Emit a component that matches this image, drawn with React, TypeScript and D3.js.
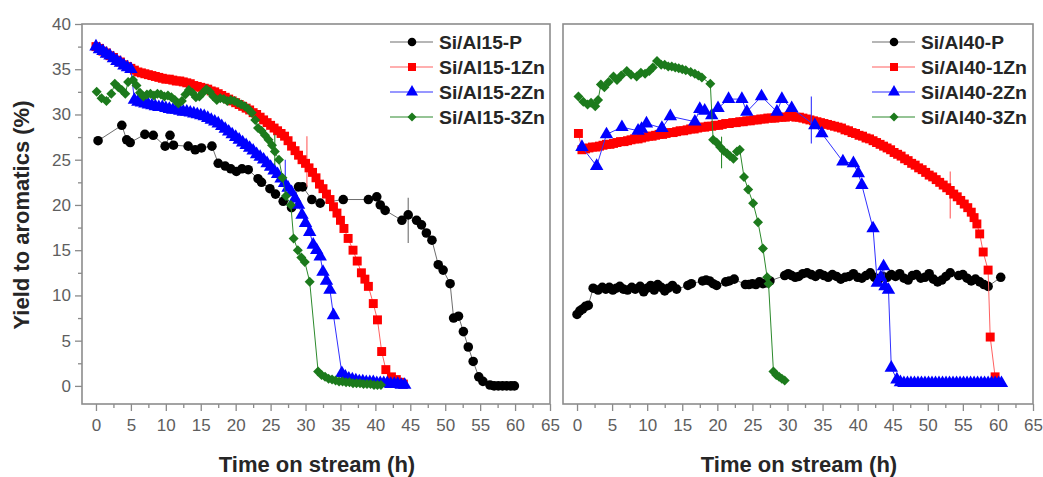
import React, { useEffect, useRef } from 'react';
import * as d3 from 'd3';

// tick labels
const xTickValues = [0, 5, 10, 15, 20, 25, 30, 35, 40, 45, 50, 55, 60, 65];
const xMinorTicks = [2.5, 7.5, 12.5, 17.5, 22.5, 27.5, 32.5, 37.5, 42.5, 47.5, 52.5, 57.5, 62.5];
const yTickValues = [0, 5, 10, 15, 20, 25, 30, 35, 40];
const yMinorTicks = [2.5, 7.5, 12.5, 17.5, 22.5, 27.5, 32.5, 37.5];

const al15Names = ['Si/Al15-P', 'Si/Al15-1Zn', 'Si/Al15-2Zn', 'Si/Al15-3Zn'];
const al40Names = ['Si/Al40-P', 'Si/Al40-1Zn', 'Si/Al40-2Zn', 'Si/Al40-3Zn'];

// [time (h), yield (%)]
const al15P = [
  [0.3, 27.1], [3.7, 28.8], [4.4, 27.2], [4.9, 26.9], [7.0, 27.8], [8.2, 27.7], [9.9, 26.5], [10.6, 27.7],
  [11.1, 26.6], [13.2, 26.5], [14.2, 26.1], [15.1, 26.3], [16.6, 26.5], [17.5, 24.6], [18.5, 24.3], [19.3, 24.0],
  [20.1, 23.7], [20.9, 24.0], [21.8, 23.9], [23.2, 22.9], [23.7, 22.5], [24.9, 21.8], [25.7, 21.2], [26.8, 20.4],
  [28.0, 19.7], [29.0, 22.0], [29.6, 22.0], [30.9, 20.6], [32.1, 20.2], [35.4, 20.6], [39.0, 20.6], [40.2, 20.9],
  [40.7, 20.0], [41.4, 19.4], [43.8, 18.3], [44.7, 18.9], [45.9, 18.3], [46.6, 17.8], [47.3, 16.9], [48.1, 16.1],
  [49.0, 13.4], [49.7, 12.8], [50.7, 11.3], [51.2, 7.5], [51.9, 7.7], [52.6, 6.0], [53.3, 4.3], [54.0, 2.7],
  [54.8, 1.0], [55.4, 0.5], [56.4, 0.1], [57.0, 0], [57.6, 0], [58.2, 0], [58.8, 0], [59.4, 0], [59.9, 0],
];

const al15Zn1 = [
  [0, 37.5], [0.5, 37.3], [1, 37.0], [1.5, 36.8], [2, 36.5], [2.5, 36.3], [3, 36.0], [3.5, 35.8], [4, 35.5],
  [4.5, 35.3], [5, 35.1], [5.5, 34.9], [6, 34.7], [6.5, 34.6], [7, 34.5], [7.5, 34.4], [8, 34.3], [8.5, 34.2],
  [9, 34.1], [9.5, 34.0], [10, 33.9], [10.5, 33.9], [11, 33.8], [11.5, 33.7], [12, 33.7], [12.5, 33.6], [13, 33.5],
  [13.5, 33.4], [14, 33.2], [14.5, 33.1], [15, 33.0], [15.5, 32.9], [16, 32.8], [16.5, 32.6], [17, 32.5],
  [17.5, 32.3], [18, 32.1], [18.5, 31.9], [19, 31.7], [19.5, 31.5], [20, 31.3], [20.5, 31.1], [21, 30.9],
  [21.5, 30.7], [22, 30.5], [22.5, 30.2], [23, 30.0], [23.5, 29.7], [24, 29.4], [24.5, 29.1], [25, 28.8],
  [25.5, 28.5], [26, 28.2], [26.5, 27.9], [27, 27.6], [27.5, 27.1], [28, 26.5], [28.5, 26.0], [29, 25.5],
  [29.5, 25.0], [30, 24.6], [30.5, 24.1], [31, 23.6], [31.5, 23.0], [32, 22.3], [32.5, 21.8], [33, 21.2],
  [33.5, 20.6], [34, 19.8], [34.5, 19.1], [35, 18.3], [35.5, 17.4], [36.1, 16.3], [36.8, 15.0], [37.4, 13.8],
  [38, 12.5], [38.5, 11.8], [39, 11.0], [39.7, 9.1], [40.3, 7.3], [40.9, 3.8], [41.5, 1.8], [42.3, 1.0],
  [43, 0.7], [43.5, 0.4], [44, 0.2],
];

const al15Zn2 = [
  [0, 37.5], [0.5, 37.2], [1, 37.0], [1.5, 36.7], [2, 36.5], [2.5, 36.2], [3, 35.9], [3.5, 35.7], [4, 35.4],
  [4.5, 35.2], [5, 35.0], [5.5, 31.6], [6, 31.4], [6.5, 31.3], [7, 31.2], [7.5, 31.1], [8, 31.0], [8.5, 30.9],
  [9, 30.8], [9.5, 30.8], [10, 30.7], [10.5, 30.6], [11, 30.5], [11.5, 30.5], [12, 30.4], [12.5, 30.3],
  [13, 30.3], [13.5, 30.2], [14, 30.1], [14.5, 30.0], [15, 29.9], [15.5, 29.8], [16, 29.6], [16.5, 29.4],
  [17, 29.2], [17.5, 29.0], [18, 28.7], [18.5, 28.4], [19, 28.1], [19.5, 27.8], [20, 27.5], [20.5, 27.2],
  [21, 26.9], [21.5, 26.6], [22, 26.3], [22.5, 26.0], [23, 25.6], [23.5, 25.3], [24, 25.0], [24.5, 24.6],
  [25, 24.2], [25.5, 23.8], [26, 23.4], [26.5, 22.9], [27, 22.4], [27.5, 21.9], [28, 21.4], [28.5, 20.7],
  [29, 20.0], [29.5, 18.9], [30, 18.0], [30.6, 17.0], [31.1, 15.6], [31.6, 15.0], [32.1, 14.3], [32.5, 12.6],
  [33, 11.6], [33.5, 10.6], [34, 7.8], [35.2, 1.4], [35.7, 1.0], [36.2, 0.8], [36.7, 0.7], [37.2, 0.6],
  [37.7, 0.5], [38.2, 0.5], [38.7, 0.4], [39.2, 0.4], [39.7, 0.4], [40.2, 0.3], [40.7, 0.3], [41.2, 0.3],
  [41.7, 0.3], [42.2, 0.2], [42.7, 0.2], [43.2, 0.2], [43.7, 0.1], [44.2, 0.1],
];

const al15Zn3 = [
  [0.1, 32.5], [0.8, 31.8], [1.5, 31.5], [2.2, 32.3], [2.7, 33.4], [3.2, 33.0], [3.7, 32.7], [4.2, 32.3],
  [4.6, 33.6], [5.3, 33.8], [5.8, 33.2], [6.3, 32.4], [6.8, 32.0], [7.3, 32.2], [7.8, 32.3], [8.3, 32.1],
  [8.8, 32.3], [9.3, 32.2], [9.8, 32.0], [10.3, 32.1], [10.8, 31.9], [11.3, 31.6], [11.8, 31.2], [12.3, 31.5],
  [12.8, 32.2], [13.3, 32.7], [13.8, 32.4], [14.3, 31.9], [14.8, 32.0], [15.3, 32.4], [15.8, 32.8], [16.3, 32.5],
  [16.8, 32.0], [17.3, 31.6], [17.8, 31.8], [18.3, 31.7], [18.8, 31.5], [19.3, 31.6], [19.8, 31.5], [20.3, 31.3],
  [20.8, 31.1], [21.3, 30.9], [21.8, 30.6], [22.3, 30.2], [22.8, 29.4], [23.2, 28.5], [23.7, 28.2], [24.2, 27.7],
  [24.7, 27.2], [25.2, 26.6], [25.6, 25.9], [26.2, 25.0], [26.7, 23.0], [27.2, 21.0], [27.9, 20.0], [28.3, 16.3],
  [28.9, 15.0], [29.4, 14.2], [29.9, 13.7], [30.6, 11.5], [31.8, 1.6], [32.3, 1.2], [32.8, 1.0], [33.3, 0.8],
  [33.8, 0.7], [34.3, 0.6], [34.8, 0.5], [35.3, 0.5], [35.8, 0.4], [36.3, 0.4], [36.8, 0.3], [37.3, 0.3],
  [37.8, 0.3], [38.3, 0.2], [38.8, 0.2], [39.3, 0.2], [39.8, 0.1], [40.3, 0.1], [40.8, 0.1],
];

const al40P = [
  [0, 7.9], [0.4, 8.3], [0.8, 8.5], [1.2, 8.8], [1.6, 8.9], [2.3, 10.8], [3.0, 10.6], [3.6, 10.9], [4.1, 10.7],
  [4.6, 10.9], [5.1, 10.6], [5.6, 10.8], [6.1, 11.0], [6.6, 10.7], [7.2, 10.6], [7.8, 10.9], [8.3, 10.7],
  [9.0, 11.0], [9.5, 10.4], [10.0, 10.8], [10.5, 11.1], [11.0, 10.6], [11.5, 11.2], [12.0, 10.9], [12.5, 10.5],
  [13.0, 10.8], [13.6, 11.1], [14.2, 10.7], [15.8, 11.1], [16.3, 11.3], [17.9, 11.6], [18.4, 11.7], [18.9, 11.6],
  [19.4, 11.3], [19.9, 11.1], [21.2, 11.5], [21.7, 11.6], [22.4, 11.8], [24.0, 11.2], [24.5, 11.2], [25.0, 11.3],
  [25.5, 11.2], [26.0, 11.5], [26.5, 11.3], [27.0, 11.4], [27.5, 11.6], [29.6, 12.2], [30.1, 12.4], [30.6, 12.2],
  [31.1, 12.0], [31.6, 12.1], [32.2, 12.4], [32.8, 12.5], [33.4, 12.3], [34.0, 12.1], [34.6, 12.4], [35.2, 12.2],
  [35.8, 12.0], [36.4, 12.3], [37.0, 12.1], [37.6, 11.8], [38.2, 12.0], [38.8, 12.1], [39.4, 12.4], [40.0, 12.0],
  [40.6, 11.9], [41.2, 12.2], [41.8, 12.5], [42.4, 12.0], [43.0, 11.8], [43.6, 12.1], [44.2, 12.0], [44.8, 12.3],
  [45.4, 12.1], [46.0, 12.4], [46.6, 11.9], [47.2, 11.7], [47.8, 12.2], [48.4, 12.3], [49.0, 11.9], [49.6, 12.0],
  [50.2, 12.4], [50.8, 11.8], [51.4, 11.5], [52.0, 11.7], [52.6, 12.1], [53.2, 12.5], [54.4, 12.2], [55.0, 12.3],
  [55.6, 11.9], [56.2, 11.6], [56.8, 11.8], [57.4, 11.5], [58.0, 11.2], [58.6, 11.0], [60.4, 12.0],
];

const al40Zn1 = [
  [0.2, 27.9], [0.7, 26.1], [1.2, 26.2], [1.7, 26.3], [2.2, 26.4], [2.7, 26.4], [3.2, 26.5], [3.7, 26.6],
  [4.2, 26.7], [4.7, 26.7], [5.2, 26.8], [5.7, 26.9], [6.2, 27.0], [6.7, 27.0], [7.2, 27.1], [7.7, 27.2],
  [8.2, 27.3], [8.7, 27.3], [9.2, 27.4], [9.7, 27.5], [10.2, 27.6], [10.7, 27.6], [11.2, 27.7], [11.7, 27.8],
  [12.2, 27.8], [12.7, 27.9], [13.2, 28.0], [13.7, 28.0], [14.2, 28.1], [14.7, 28.2], [15.2, 28.2], [15.7, 28.3],
  [16.2, 28.4], [16.7, 28.4], [17.2, 28.5], [17.7, 28.6], [18.2, 28.6], [18.7, 28.7], [19.2, 28.7], [19.7, 28.8],
  [20.2, 28.8], [20.7, 28.9], [21.2, 29.0], [21.7, 29.0], [22.2, 29.1], [22.7, 29.1], [23.2, 29.2], [23.7, 29.2],
  [24.2, 29.3], [24.7, 29.3], [25.2, 29.4], [25.7, 29.4], [26.2, 29.5], [26.7, 29.5], [27.2, 29.6], [27.7, 29.6],
  [28.2, 29.6], [28.7, 29.7], [29.2, 29.7], [29.7, 29.7], [30.2, 29.8], [30.7, 29.8], [31.2, 29.7], [31.7, 29.7],
  [32.2, 29.6], [32.7, 29.5], [33.2, 29.4], [33.7, 29.3], [34.2, 29.2], [34.7, 29.1], [35.2, 29.0], [35.7, 28.9],
  [36.2, 28.8], [36.7, 28.7], [37.2, 28.6], [37.7, 28.5], [38.2, 28.3], [38.7, 28.2], [39.2, 28.0], [39.7, 27.9],
  [40.2, 27.7], [40.7, 27.6], [41.2, 27.4], [41.7, 27.3], [42.2, 27.1], [42.7, 26.9], [43.2, 26.7], [43.7, 26.5],
  [44.2, 26.3], [44.7, 26.1], [45.2, 25.8], [45.7, 25.6], [46.2, 25.4], [46.7, 25.1], [47.2, 24.9], [47.7, 24.6],
  [48.2, 24.4], [48.7, 24.1], [49.2, 23.9], [49.7, 23.6], [50.2, 23.3], [50.7, 23.1], [51.2, 22.8], [51.7, 22.5],
  [52.2, 22.2], [52.7, 21.9], [53.2, 21.6], [53.7, 21.2], [54.2, 20.9], [54.7, 20.5], [55.2, 20.1], [55.7, 19.7],
  [56.2, 19.2], [56.6, 18.6], [57.0, 17.9], [57.4, 16.8], [57.9, 14.8], [58.6, 12.8], [58.9, 5.4], [59.6, 1.0],
];

const al40Zn2 = [
  [0.7, 26.4], [2.8, 24.3], [4.2, 27.8], [6.4, 28.6], [8.7, 28.2], [9.2, 28.4], [9.9, 29.0], [12.1, 28.5],
  [13.3, 29.8], [16.8, 29.2], [17.5, 30.6], [18.2, 30.4], [19.2, 29.9], [20.1, 30.7], [21.6, 31.7], [23.5, 31.7],
  [24.2, 30.3], [26.3, 32.0], [28.5, 30.3], [29.2, 31.7], [30.6, 30.7], [33.9, 28.8], [34.9, 27.9], [37.9, 24.8],
  [39.4, 24.6], [40.1, 23.5], [40.6, 22.2], [42.2, 17.4], [42.8, 11.4], [43.3, 12.0], [43.7, 13.2], [43.9, 11.0],
  [44.4, 10.6], [44.8, 2.0], [45.6, 0.7], [46.1, 0.4], [46.6, 0.3], [47.1, 0.3], [47.6, 0.3], [48.1, 0.3],
  [48.6, 0.3], [49.1, 0.3], [49.6, 0.3], [50.1, 0.3], [50.6, 0.3], [51.1, 0.3], [51.6, 0.3], [52.1, 0.3],
  [52.6, 0.3], [53.1, 0.3], [53.6, 0.3], [54.1, 0.3], [54.6, 0.3], [55.1, 0.3], [55.6, 0.3], [56.1, 0.3],
  [56.6, 0.3], [57.1, 0.3], [57.6, 0.3], [58.1, 0.3], [58.6, 0.3], [59.1, 0.3], [59.6, 0.3], [60.1, 0.3], [60.5, 0.3],
];

const al40Zn3 = [
  [0.2, 32.0], [0.9, 31.4], [1.5, 31.1], [2.0, 31.3], [2.6, 30.9], [3.0, 31.6], [3.4, 33.3], [3.9, 33.0],
  [4.5, 33.6], [5.2, 34.2], [5.7, 33.8], [6.3, 34.3], [7.1, 34.8], [7.7, 34.4], [8.5, 34.2], [9.1, 34.6],
  [9.7, 34.5], [10.3, 34.8], [10.8, 35.2], [11.4, 35.9], [12.0, 35.5], [12.5, 35.5], [13.0, 35.3], [13.5, 35.3],
  [14.0, 35.2], [14.5, 35.1], [15.0, 35.0], [15.5, 34.9], [16.2, 34.7], [16.8, 34.5], [17.3, 34.3], [17.8, 34.1],
  [19.0, 33.4], [19.4, 27.2], [19.9, 26.9], [20.4, 26.4], [20.9, 26.0], [21.4, 25.7], [21.8, 25.4], [22.3, 25.1],
  [22.8, 25.9], [23.2, 26.1], [23.8, 23.1], [24.4, 21.7], [25.1, 20.2], [25.8, 18.1], [26.5, 15.2], [27.1, 12.0],
  [27.3, 11.3], [28.0, 1.6], [28.4, 1.2], [28.8, 1.0], [29.2, 0.8], [29.6, 0.6],
];

// error bars per series: [time, centre, half-width]
const al15Err = [[44.7, 18.3, 2.5], [30.2, 24.8, 2.8], [27.1, 23.2, 1.8], [25.6, 26.1, 1.7]];
const al40Err = [null, [53.2, 21.1, 2.6], [33.4, 29.4, 2.6], [20.6, 25.8, 1.75]];

const markerColors = ['#000000', '#ff0000', '#0000ff', '#1c7a1c'];
const lineColors = ['#6e6e6e', '#ff6060', '#3030ff', '#2c8a2c'];

function App() {
  const ref = useRef(null);

  useEffect(() => {
    const svg = d3.select(ref.current);
    svg.selectAll('*').remove();

    const symbols = [
      { type: d3.symbolCircle, size: 72, rot: 0 },
      { type: d3.symbolSquare, size: 80, rot: 0 },
      { type: d3.symbolTriangle, size: 78, rot: 0 },
      { type: d3.symbolSquare, size: 50, rot: 45 },
    ];

    const drawPanel = (left, right, series, names, errs, showYTicks, legendX) => {
      const x = d3.scaleLinear().domain([-2, 65]).range([left, right]);
      const y = d3.scaleLinear().domain([-2, 40]).range([404, 24]);
      const g = svg.append('g');

      // x axis
      const xa = g.append('g').attr('transform', 'translate(0,404)')
        .call(d3.axisBottom(x).tickValues(xTickValues).tickSize(7).tickPadding(8).tickFormat(d3.format('d')));
      xa.append('g').call(d3.axisBottom(x).tickValues(xMinorTicks).tickSize(4).tickFormat(() => ''));
      xa.selectAll('.domain').remove();
      xa.selectAll('line').attr('stroke', '#8a8a8a').attr('stroke-width', 1.3);
      xa.selectAll('text').attr('fill', '#5e5e5e').attr('font-size', 17)
        .attr('font-family', 'Arial, "Liberation Sans", sans-serif');

      if (showYTicks) {
        const ya = g.append('g').attr('transform', `translate(${left},0)`)
          .call(d3.axisLeft(y).tickValues(yTickValues).tickSize(7).tickPadding(4).tickFormat(d3.format('d')));
        ya.append('g').call(d3.axisLeft(y).tickValues(yMinorTicks).tickSize(4).tickFormat(() => ''));
        ya.selectAll('.domain').remove();
        ya.selectAll('line').attr('stroke', '#8a8a8a').attr('stroke-width', 1.3);
        ya.selectAll('text').attr('fill', '#5e5e5e').attr('font-size', 17)
          .attr('font-family', 'Arial, "Liberation Sans", sans-serif');
      }

      // frame
      g.append('rect')
        .attr('x', left).attr('y', 24)
        .attr('width', right - left).attr('height', 380)
        .attr('fill', 'none').attr('stroke', '#8c8c8c').attr('stroke-width', 1.6);

      const line = d3.line().x((d) => x(d[0])).y((d) => y(d[1]));

      series.forEach((data, i) => {
        const s = symbols[i];
        const sg = g.append('g');
        sg.append('path').attr('d', line(data)).attr('fill', 'none')
          .attr('stroke', lineColors[i]).attr('stroke-width', 1);
        const e = errs[i];
        if (e) {
          sg.append('line')
            .attr('x1', x(e[0])).attr('x2', x(e[0]))
            .attr('y1', y(e[1] - e[2])).attr('y2', y(e[1] + e[2]))
            .attr('stroke', lineColors[i]).attr('stroke-width', 1.1);
        }
        sg.selectAll('path.m').data(data).join('path')
          .attr('class', 'm')
          .attr('d', d3.symbol().type(s.type).size(s.size))
          .attr('transform', (d) => `translate(${x(d[0])},${y(d[1])}) rotate(${s.rot})`)
          .attr('fill', markerColors[i]);
      });

      // legend
      names.forEach((name, i) => {
        const s = symbols[i];
        const ly = 42 + 25 * i;
        const lg = g.append('g');
        lg.append('line').attr('x1', legendX).attr('x2', legendX + 43)
          .attr('y1', ly).attr('y2', ly).attr('stroke', lineColors[i]).attr('stroke-width', 1.2);
        lg.append('path').attr('d', d3.symbol().type(s.type).size(s.size * 0.8)())
          .attr('transform', `translate(${legendX + 22},${ly}) rotate(${s.rot})`)
          .attr('fill', markerColors[i]);
        lg.append('text').attr('x', legendX + 49).attr('y', ly + 6.5)
          .attr('font-family', 'Arial, "Liberation Sans", sans-serif')
          .attr('font-weight', 'bold').attr('font-size', 18).attr('fill', '#262626')
          .attr('textLength', i === 0 ? 83 : 106).attr('lengthAdjust', 'spacingAndGlyphs')
          .text(name);
      });

      g.append('text')
        .attr('x', (x(-2) + x(65)) / 2 + 1).attr('y', 472)
        .attr('text-anchor', 'middle')
        .attr('font-family', 'Arial, "Liberation Sans", sans-serif')
        .attr('font-weight', 'bold').attr('font-size', 22).attr('fill', '#262626')
        .text('Time on stream (h)');
    };

    drawPanel(82, 550, [al15P, al15Zn1, al15Zn2, al15Zn3], al15Names, al15Err, true, 390);
    drawPanel(563, 1033, [al40P, al40Zn1, al40Zn2, al40Zn3], al40Names, al40Err, false, 872);

    svg.append('text')
      .attr('transform', 'translate(29,215) rotate(-90)')
      .attr('text-anchor', 'middle')
      .attr('font-family', 'Arial, "Liberation Sans", sans-serif')
      .attr('font-weight', 'bold').attr('font-size', 22).attr('fill', '#262626')
      .text('Yield to aromatics (%)');
  }, []);

  return (
    <svg ref={ref} width={1043} height={477}
      style={{ position: 'absolute', left: 0, top: 0, background: '#fff' }} />
  );
}

export default App;
